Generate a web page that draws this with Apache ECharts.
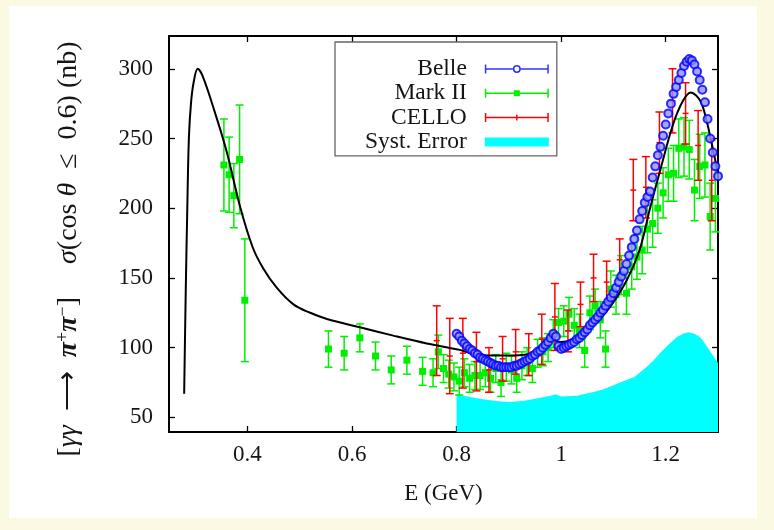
<!DOCTYPE html>
<html><head><meta charset="utf-8">
<script src="https://cdn.jsdelivr.net/npm/echarts@6/dist/echarts.min.js"></script>
<style>
html,body{margin:0;padding:0;background:#fbf9e2;}
#panel{position:absolute;left:9px;top:6px;width:748px;height:512px;background:#fff;}
#chart{position:absolute;left:0;top:0;width:774px;height:530px;}
</style></head><body>
<div id="panel"></div><div id="chart"></div>
<script>
// ---------------- data ----------------
const xTicks = [0.4, 0.6, 0.8, 1.0, 1.2];
const xTickLabels = ['0.4', '0.6', '0.8', '1', '1.2'];
const yTicks = [50, 100, 150, 200, 250, 300];
const yTickLabels = ['50', '100', '150', '200', '250', '300'];

// Belle (blue open circles)
const belleE = [0.800,0.805,0.810,0.815,0.820,0.825,0.830,0.835,0.840,0.845,0.850,0.855,0.860,0.865,0.870,0.875,0.880,0.885,0.890,0.895,
 0.900,0.905,0.910,0.915,0.920,0.925,0.930,0.935,0.940,0.945,0.950,0.955,0.960,0.965,0.970,0.975,0.980,0.985,0.990,0.995,
 1.000,1.005,1.010,1.015,1.020,1.025,1.030,1.035,1.040,1.045,1.050,1.055,1.060,1.065,1.070,1.075,1.080,1.085,1.090,1.095,
 1.100,1.105,1.110,1.115,1.120,1.125,1.130,1.135,1.140,1.145,1.150,1.155,1.160,1.165,1.170,1.175,1.180,1.185,1.190,1.195,
 1.200,1.205,1.210,1.215,1.220,1.225,1.230,1.235,1.240,1.245,1.250,1.255,1.260,1.265,1.270,1.275,1.280,1.285,1.290,1.295,1.300];
const belleV = [110,108,105,103,101,99,98,96,95,93,92,91,90,89,88,87,87,86,86,86,
 86,86,87,87,88,89,90,91,92,94,95,97,98,100,102,104,107,110,108,101,
 99,100,101,102,103,104,106,107,109,111,113,116,118,120,122,125,127,130,133,136,
 139,143,147,151,155,160,166,172,178,184,192,198,204,208,212,222,230,238,244,252,
 260,268,275,282,287,292,297,302,305,307,306,303,298,292,285,276,264,250,240,230,223];

// Mark II (green squares): energy, value, error
const markE = [0.355,0.365,0.374,0.385,0.395,0.555,0.585,0.615,0.645,0.675,0.705,0.735,0.755,0.765,0.775,0.785,0.795,0.805,0.815,0.825,
 0.835,0.845,0.855,0.865,0.875,0.885,0.895,0.905,0.915,0.925,0.935,0.945,0.955,0.965,0.975,0.985,0.995,1.005,1.015,1.025,
 1.035,1.045,1.055,1.065,1.075,1.085,1.095,1.105,1.115,1.125,1.135,1.145,1.155,1.165,1.175,1.185,1.195,1.205,1.215,1.225,
 1.235,1.245,1.255,1.265,1.275,1.285,1.295];
const markV = [231,224,209,235,134,99,96,107,94,84,91,83,82,97,85,81,79,76,82,78,
 80,80,82,78,85,75,86,84,78,87,90,85,96,97,100,110,118,119,124,116,
 112,98,125,130,120,99,142,138,152,139,158,165,170,185,189,200,211,224,225,243,
 244,242,213,230,231,194,207];
const markErr = [33,27,23,39,44,13,12,10,10,10,10,10,10,12,10,10,10,10,10,10,
 10,10,10,10,10,10,10,10,10,10,10,10,10,10,10,10,10,11,12,12,
 12,12,12,12,13,13,13,14,14,15,16,16,17,17,17,18,18,19,20,21,
 21,21,22,23,23,24,24];

// CELLO (red): energy, value, error
const celloE = [0.762,0.787,0.812,0.838,0.862,0.888,0.913,0.938,0.963,0.988,1.013,1.037,1.062,1.087,1.112,1.138,1.162,1.188,1.213,1.238,1.262,1.288];
const celloV = [105,94,96,90,84,92,97,95,106,122,112,131,150,147,163,213,215,247,277,268,245,220];
const celloErr = [25,27,25,21,16,16,16,15,18,24,15,16,17,15,15,22,22,22,23,22,25,29];

// Systematic error band (cyan)
const systE = [0.800,0.820,0.850,0.880,0.900,0.930,0.960,0.980,0.990,1.000,1.030,1.060,1.080,1.100,1.120,1.140,1.160,1.175,1.190,1.205,1.221,1.233,1.243,1.255,1.266,1.275,1.284,1.291,1.297,1.300];
const systV = [67,65,63,61.5,61,62,64,65.5,66.5,65,65.5,68,70,73,76,79,85,90,96.6,102,107.4,110,111,110,107.4,103,97.9,94,90.7,89];

// Theory curve (black)
const thE = [0.279,0.282,0.285,0.288,0.292,0.297,0.305,0.314,0.335,0.360,0.386,0.410,0.430,0.456,0.488,0.520,0.552,0.615,0.679,0.743,
 0.806,0.832,0.864,0.896,0.940,0.959,0.978,0.985,0.990,1.000,1.048,1.087,1.125,1.150,1.170,1.190,1.214,1.233,1.248,1.266,1.278,1.291,1.300];
const thV = [67,140,200,250,275,290,300,295,272,241,201,172,157,143,131,125,120.6,114.6,108.6,103,
 98.4,95.5,94.3,94.3,95.5,98.4,104,107,105,104,112,126,148,170,200,228,260,277,283,277,263,241,225];

// ---------------- chart ----------------
const FONT = '"Liberation Serif","Times New Roman",serif';
const TXT = '#151515';
const zip = (a, b, c) => a.map((v, i) => c ? [v, b[i], c[i]] : [v, b[i]]);

function errorBarRenderer(color, marker) {
  return function (params, api) {
    const x = api.value(0), y = api.value(1), e = api.value(2);
    const p = api.coord([x, y]);
    const hi = api.coord([x, y + e]);
    const lo = api.coord([x, y - e]);
    const cw = 4;
    const st = { stroke: color, lineWidth: 1.5 };
    const children = [
      { type: 'line', shape: { x1: p[0], y1: hi[1], x2: p[0], y2: lo[1] }, style: st },
      { type: 'line', shape: { x1: p[0] - cw, y1: hi[1], x2: p[0] + cw, y2: hi[1] }, style: st },
      { type: 'line', shape: { x1: p[0] - cw, y1: lo[1], x2: p[0] + cw, y2: lo[1] }, style: st }
    ];
    if (marker === 'square') {
      children.push({ type: 'rect', shape: { x: p[0] - 3.5, y: p[1] - 3.5, width: 7, height: 7 }, style: { fill: color } });
    } else {
      children.push({ type: 'line', shape: { x1: p[0] - 3, y1: p[1], x2: p[0] + 3, y2: p[1] }, style: { stroke: color, lineWidth: 1.5 } });
    }
    return { type: 'group', children: children };
  };
}

const capL = 'M0 0 h1.5 v9 h-1.5 Z ';
const capR = 'M62.5 0 h1.5 v9 h-1.5 Z ';
const iconBelle = 'path://' + capL + capR + 'M0 3.75 h28 v1.5 h-28 Z M36 3.75 h28 v1.5 h-28 Z ' +
  'M28 4.5 A4 4 0 1 1 36 4.5 A4 4 0 1 1 28 4.5 Z M29.6 4.5 A2.4 2.4 0 1 0 34.4 4.5 A2.4 2.4 0 1 0 29.6 4.5 Z';
const iconMark = 'path://' + capL + capR + 'M0 3.75 h64 v1.5 h-64 Z M29 1.5 h6 v6 h-6 Z';
const iconCello = 'path://' + capL + capR + 'M0 3.75 h64 v1.5 h-64 Z M31.3 1.5 h1.4 v6 h-1.4 Z';
const iconSyst = 'path://M0 0 h64 v9 h-64 Z';

const axisLineStyle = { color: '#000', width: 2 };
const tickStyle = { color: '#000', width: 1.3 };

const chart = echarts.init(document.getElementById('chart'));
chart.setOption({
  animation: false,
  backgroundColor: 'transparent',
  grid: { left: 169, right: 56, top: 36, bottom: 98 },
  xAxis: [
    {
      type: 'value', min: 0.25, max: 1.3,
      axisLine: { onZero: false, lineStyle: axisLineStyle },
      axisTick: { inside: true, length: 6, customValues: xTicks, lineStyle: tickStyle },
      axisLabel: { customValues: xTicks, formatter: v => xTickLabels[xTicks.indexOf(v)], fontFamily: FONT, fontSize: 23, color: TXT, margin: 11 },
      splitLine: { show: false },
      name: 'E (GeV)', nameLocation: 'middle', nameGap: 50,
      nameTextStyle: { fontFamily: FONT, fontSize: 23, color: TXT }
    },
    {
      type: 'value', min: 0.25, max: 1.3, position: 'top',
      axisLine: { onZero: false, lineStyle: axisLineStyle },
      axisTick: { inside: true, length: 6, customValues: xTicks, lineStyle: tickStyle },
      axisLabel: { show: false }, splitLine: { show: false }
    }
  ],
  yAxis: [
    {
      type: 'value', min: 39.5, max: 323.5,
      axisLine: { show: true, onZero: false, lineStyle: axisLineStyle },
      axisTick: { show: true, inside: true, length: 6, customValues: yTicks, lineStyle: tickStyle },
      axisLabel: { customValues: yTicks, formatter: v => yTickLabels[yTicks.indexOf(v)], fontFamily: FONT, fontSize: 23, color: TXT, margin: 16 },
      splitLine: { show: false }
    },
    {
      type: 'value', min: 39.5, max: 323.5, position: 'right',
      axisLine: { show: true, onZero: false, lineStyle: axisLineStyle },
      axisTick: { show: true, inside: true, length: 6, customValues: yTicks, lineStyle: tickStyle },
      axisLabel: { show: false }, splitLine: { show: false }
    }
  ],
  legend: {
    orient: 'vertical', align: 'right', left: 335, top: 42,
    selectedMode: false,
    itemWidth: 64, itemHeight: 9, itemGap: 0.3,
    padding: [15, 8, 2, 30],
    borderColor: '#666', borderWidth: 1.3, backgroundColor: '#fff',
    textStyle: { fontFamily: FONT, fontSize: 23.5, color: TXT, lineHeight: 23, padding: [0, 13, 0, 0] },
    data: [
      { name: 'Belle', icon: iconBelle, itemStyle: { color: '#0000ff', borderWidth: 0 } },
      { name: 'Mark II', icon: iconMark, itemStyle: { color: '#00ee00', borderWidth: 0 } },
      { name: 'CELLO', icon: iconCello, itemStyle: { color: '#ff0000', borderWidth: 0 } },
      { name: 'Syst. Error', icon: iconSyst, itemStyle: { color: '#00ffff', borderWidth: 0 } }
    ]
  },
  graphic: [{
    type: 'text', x: 69, y: 249, rotation: Math.PI / 2,
    style: {
      text: '{n|[}{i|γγ}{n|  ⟶  }{b|π}{s|+}{b|π}{s|−}{n|]}{g|}{i|σ}{n|(cos }{i|θ}{n|  ≤  0.6) (nb)}',
      align: 'center', verticalAlign: 'middle', fill: TXT,
      fontFamily: FONT, fontSize: 28,
      rich: {
        n: { fontFamily: FONT, fontSize: 28, color: TXT, lineHeight: 30 },
        i: { fontFamily: FONT, fontSize: 28, fontStyle: 'italic', color: TXT, lineHeight: 30 },
        b: { fontFamily: FONT, fontSize: 28, fontStyle: 'italic', fontWeight: 'bold', color: TXT, lineHeight: 30 },
        s: { fontFamily: FONT, fontSize: 18, color: TXT, verticalAlign: 'top', lineHeight: 22 },
        g: { width: 33 }
      }
    }
  }],
  series: [
    {
      name: 'Syst. Error', type: 'line', data: zip(systE, systV), showSymbol: false, symbol: 'none',
      lineStyle: { width: 0 }, color: '#00ffff',
      areaStyle: { color: '#00ffff', opacity: 1, origin: 'start' }, z: 1
    },
    {
      name: 'Mark II', type: 'custom', data: zip(markE, markV, markErr),
      itemStyle: { color: '#00ee00' }, renderItem: errorBarRenderer('#00ee00', 'square'), z: 2
    },
    {
      name: 'CELLO', type: 'custom', data: zip(celloE, celloV, celloErr),
      itemStyle: { color: '#ff0000' }, renderItem: errorBarRenderer('#ff0000', 'tick'), z: 3
    },
    {
      name: 'theory', type: 'line', data: zip(thE, thV), showSymbol: false, symbol: 'none',
      smooth: 0.35,
      lineStyle: { color: '#000', width: 2 }, color: '#000', z: 4
    },
    {
      name: 'Belle', type: 'scatter', data: zip(belleE, belleV), symbol: 'circle', symbolSize: 8,
      itemStyle: { color: '#9090ff', borderColor: '#0000ff', borderWidth: 2 }, z: 5
    }
  ]
});
</script></body></html>
